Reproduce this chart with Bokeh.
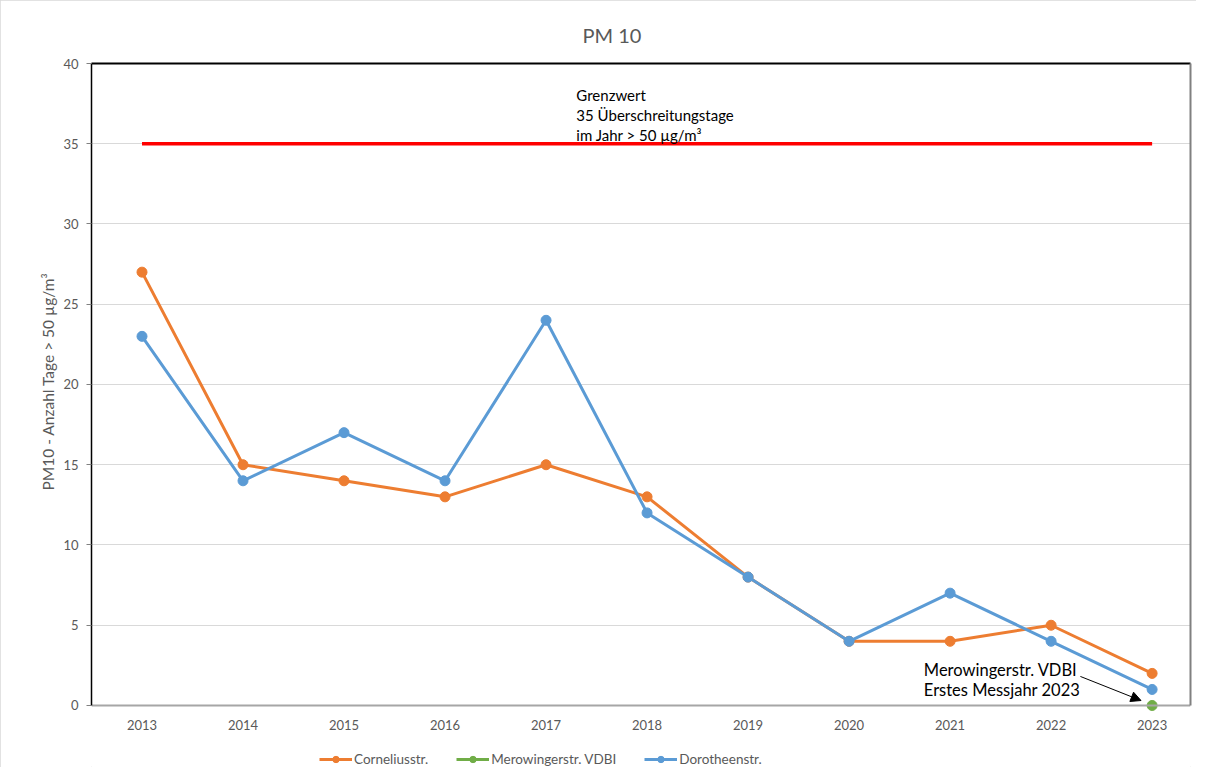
from bokeh.plotting import figure
from bokeh.models import (Range1d, FixedTicker, LinearAxis, Legend, LegendItem,
                          Arrow, NormalHead, ColumnDataSource, Title)
from bokeh.core.properties import value
from bokeh.embed import file_html
from bokeh.resources import INLINE

years = [2013, 2014, 2015, 2016, 2017, 2018, 2019, 2020, 2021, 2022, 2023]
cornelius = [27, 15, 14, 13, 15, 13, 8, 4, 4, 5, 2]
dorotheen = [23, 14, 17, 14, 24, 12, 8, 4, 7, 4, 1]
merowinger_years = [2023]
merowinger = [0]
limit_years = [2013, 2023]
limit = [35, 35]
y_ticks = [0, 5, 10, 15, 20, 25, 30, 35, 40]

title = "PM 10"
y_label = "PM10 - Anzahl Tage > 50 µg/m³"
limit_note = "Grenzwert\n35 Überschreitungstage\nim Jahr > 50 µg/m³"
mero_note = "Merowingerstr. VDBI\nErstes Messjahr 2023"

FONT = "Lato"
GRAY = "#595959"
ORANGE = "#ED7D31"
BLUE = "#5B9BD5"
GREEN = "#70AD47"

# frame: top 63 (=40), zero line at 705, frame bottom at 767 (legend area inside frame)
p = figure(width=1196, height=767, output_backend="svg", toolbar_location=None,
           x_range=Range1d(2012.5, 2023.38), y_range=Range1d(-3.863, 40),
           min_border_left=91, min_border_right=3, min_border_top=63,
           min_border_bottom=0)
p.styles = {"outline": "1px solid #D9D9D9", "outline-offset": "-1px"}

p.title.text = title
p.title.align = "left"
p.title.offset = 491
p.title.standoff = 22
p.title.text_font = FONT
p.title.text_font_size = "20px"
p.title.text_font_style = "normal"
p.title.text_color = GRAY

p.outline_line_color = None
p.xgrid.grid_line_color = None
p.ygrid.grid_line_color = "#D9D9D9"
p.ygrid.ticker = FixedTicker(ticks=y_ticks)

xa = p.xaxis[0]
xa.fixed_location = 0
xa.ticker = FixedTicker(ticks=years)
xa.axis_line_color = "#A6A6A6"
xa.axis_line_width = 2
xa.major_tick_line_color = None
xa.minor_tick_line_color = None
xa.major_label_text_font = FONT
xa.major_label_text_font_size = "13px"
xa.major_label_text_color = GRAY
xa.major_label_standoff = 9

ya = p.yaxis[0]
ya.bounds = (0, 40)
ya.ticker = FixedTicker(ticks=y_ticks)
ya.axis_line_color = "black"
ya.axis_line_width = 1.5
ya.major_tick_line_color = "#808080"
ya.major_tick_out = 5
ya.major_tick_in = 0
ya.minor_tick_line_color = None
ya.major_label_text_font = FONT
ya.major_label_text_font_size = "13px"
ya.major_label_text_color = GRAY
ya.major_label_standoff = 8

# y axis title, placed along the 0..40 part of the axis
ytitle = Title(text=y_label, align="left", offset=277, standoff=8,
               text_font=FONT, text_font_size="15.5px", text_font_style="normal",
               text_color=GRAY)
p.add_layout(ytitle, "left")

top_axis = LinearAxis(axis_line_color="black", axis_line_width=2,
                      major_tick_line_color=None, minor_tick_line_color=None,
                      major_label_text_font_size="0px", major_label_text_color=None)
p.add_layout(top_axis, "above")
right_axis = LinearAxis(bounds=(0, 40), axis_line_color="#808080", axis_line_width=2,
                        major_tick_line_color=None, minor_tick_line_color=None,
                        major_label_text_font_size="0px", major_label_text_color=None)
p.add_layout(right_axis, "right")

# limit line
p.line(limit_years, limit, line_color="red", line_width=3.5)

c_src = ColumnDataSource(dict(x=years, y=cornelius))
d_src = ColumnDataSource(dict(x=years, y=dorotheen))
m_src = ColumnDataSource(dict(x=merowinger_years, y=merowinger))

cl = p.line("x", "y", source=c_src, line_color=ORANGE, line_width=3)
cc = p.scatter("x", "y", source=c_src, size=10, fill_color=ORANGE, line_color=ORANGE)
dl = p.line("x", "y", source=d_src, line_color=BLUE, line_width=3)
dc = p.scatter("x", "y", source=d_src, size=10, fill_color=BLUE, line_color=BLUE)
ml = p.line("x", "y", source=m_src, line_color=GREEN, line_width=3)
mc = p.scatter("x", "y", source=m_src, size=10, fill_color=GREEN, line_color=GREEN)

p.text(x=[2017.30], y=[38.6], text=[limit_note], text_font=value(FONT),
       text_font_size="15px", text_color="black", text_baseline="top",
       text_align="left", text_line_height=1.1)
p.text(x=[2020.74], y=[2.85], text=[mero_note], text_font=value(FONT),
       text_font_size="16.5px", text_color="black", text_baseline="top",
       text_align="left", text_line_height=1.02)

p.add_layout(Arrow(end=NormalHead(size=10, fill_color="black", line_color="black"),
                   x_start=2022.29, y_start=1.81, x_end=2022.89, y_end=0.31,
                   line_color="black", line_width=1))

legend = Legend(items=[
    LegendItem(label="Corneliusstr.", renderers=[cl, cc]),
    LegendItem(label="Merowingerstr. VDBI", renderers=[ml, mc]),
    LegendItem(label="Dorotheenstr.", renderers=[dl, dc]),
], orientation="horizontal", location=(228, 0), glyph_width=33, glyph_height=16,
    label_standoff=2, spacing=28, padding=0, margin=0,
    label_text_font=FONT, label_text_font_size="13.5px", label_text_color=GRAY,
    border_line_color=None, background_fill_alpha=0)
p.add_layout(legend)

open("out.html", "w").write(file_html(p, INLINE))
